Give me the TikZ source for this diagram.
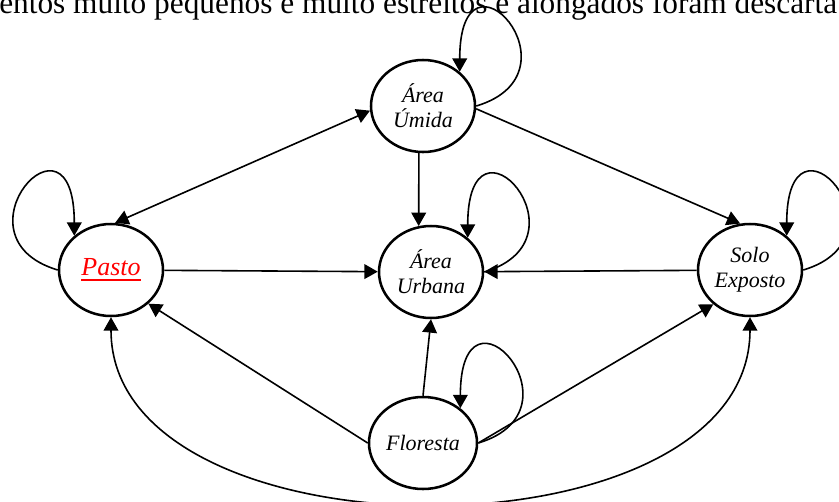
\documentclass[tikz,border=0pt]{standalone}
\usepackage{fontspec}
\setmainfont{Liberation Serif}
\usepackage{tikz}
\usetikzlibrary{arrows.meta,shapes.geometric}
\usepackage{xcolor}

% thick underline for the highlighted class
\newcommand{\thickul}[1]{\setbox0\hbox{#1}\rlap{\rule[-4.2pt]{\wd0}{2pt}}\box0}

\begin{document}
\begin{tikzpicture}[
  x=0.75pt, y=-0.75pt,
  state/.style={draw, ellipse, line width=1.9pt, minimum width=78pt, minimum height=69pt, inner sep=1pt, align=center, font=\itshape\fontsize{16.5}{18.75}\selectfont},
  arr/.style={-{Triangle[length=10pt,width=11pt]}, line width=1.2pt},
  biarr/.style={{Triangle[length=10pt,width=11pt]}-{Triangle[length=10pt,width=11pt]}, line width=1.2pt}
]
\useasboundingbox (0,0) rectangle (839,501);

\node[anchor=base west, inner sep=0, font=\fontsize{23.5}{28}\selectfont] (caption) at (-1,13) {entos muito pequenos e muito estreitos e alongados foram descarta};

\node[state] (pasto) at (111,270) {\fontsize{19.5}{22}\selectfont\color{red}\thickul{Pasto}};
\node[state] (umida) at (423,106) {Área\\Úmida};
\node[state] (urbana) at (431,272) {Área\\Urbana};
\node[state] (solo) at (750,270) {Solo\\Exposto};
\node[state] (flor) at (423,443) {Floresta};

% transitions between classes
\draw[biarr] (pasto.85) -- (umida.185);
\draw[arr] (umida.265) -- (urbana.105);
\draw[arr] (umida.-3) -- (solo.102);
\draw[arr] (pasto) -- (urbana);
\draw[arr] (solo) -- (urbana);
\draw[arr] (flor.west) -- (pasto.-42);
\draw[arr] (flor.north) -- (urbana.south);
\draw[arr] (flor.east) -- (solo.-137);
\draw[biarr] (pasto.south) .. controls +(0,247) and +(0,247) .. (solo.south);

% self loops
\draw[arr] (pasto.west) .. controls +(-110,-33) and +(0,-140) .. (pasto.137);
\draw[arr] (umida.east) .. controls +(110,-33) and +(0,-140) .. (umida.43);
\draw[arr] (urbana.east) .. controls +(110,-33) and +(0,-140) .. (urbana.43);
\draw[arr] (solo.east) .. controls +(110,-33) and +(0,-140) .. (solo.43);
\draw[arr] (flor.east) .. controls +(110,-33) and +(0,-140) .. (flor.43);
\end{tikzpicture}
\end{document}
